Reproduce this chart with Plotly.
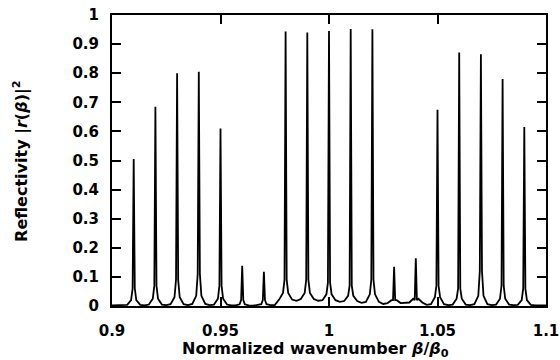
import plotly.graph_objects as go

# Resonance peaks of the reflectivity spectrum
peak_pos = [0.91, 0.92, 0.93, 0.94, 0.95, 0.96, 0.97, 0.98, 0.99, 1.00,
            1.01, 1.02, 1.03, 1.04, 1.05, 1.06, 1.07, 1.08, 1.09]
peak_top = [0.505, 0.685, 0.80, 0.805, 0.61, 0.138, 0.118, 0.943, 0.94, 0.945,
            0.952, 0.951, 0.135, 0.164, 0.674, 0.871, 0.865, 0.78, 0.615]
# height where the spike widens into its dark flare
peak_flare = [0.06, 0.07, 0.09, 0.11, 0.07, 0.02, 0.02, 0.09, 0.09, 0.08,
              0.07, 0.09, 0.02, 0.02, 0.07, 0.06, 0.12, 0.07, 0.06]
# height of the skirt close to each peak
peak_skirt = [0.02, 0.025, 0.03, 0.035, 0.025, 0.006, 0.006, 0.045, 0.045, 0.04,
              0.035, 0.04, 0.02, 0.025, 0.03, 0.025, 0.035, 0.025, 0.02]
# height of the skirt base further out from each peak
peak_base = [0.004, 0.005, 0.006, 0.007, 0.005, 0.002, 0.003, 0.022, 0.024, 0.02,
             0.017, 0.014, 0.01, 0.012, 0.006, 0.005, 0.006, 0.005, 0.004]
# valley levels: at 0.9, between each pair of peaks, and at 1.1
valley_x = [0.900, 0.915, 0.925, 0.935, 0.945, 0.955, 0.965, 0.975, 0.985, 0.995,
            1.005, 1.015, 1.025, 1.035, 1.045, 1.055, 1.065, 1.075, 1.085, 1.095, 1.100]
valley_y = [0.002, 0.002, 0.003, 0.003, 0.003, 0.002, 0.001, 0.003, 0.018, 0.018,
            0.014, 0.011, 0.007, 0.01, 0.004, 0.003, 0.003, 0.003, 0.003, 0.002, 0.002]

x_tickvals = [0.9, 0.95, 1.0, 1.05, 1.1]
x_ticktext = ["0.9", "0.95", "1", "1.05", "1.1"]
y_tickvals = [0, 0.1, 0.2, 0.3, 0.4, 0.5, 0.6, 0.7, 0.8, 0.9, 1.0]
y_ticktext = ["0", "0.1", "0.2", "0.3", "0.4", "0.5", "0.6", "0.7", "0.8", "0.9", "1"]

# Offsets (in wavenumber units) at which the read heights apply around each peak
FLARE_OFF = 0.0005
SKIRT_OFF = 0.0012
BASE_OFF = 0.003

xs, ys = [], []
for i, p in enumerate(peak_pos):
    xs.append(valley_x[i])
    ys.append(valley_y[i])
    xs += [p - BASE_OFF, p - SKIRT_OFF, p - FLARE_OFF, p,
           p + FLARE_OFF, p + SKIRT_OFF, p + BASE_OFF]
    ys += [peak_base[i], peak_skirt[i], peak_flare[i], peak_top[i],
           peak_flare[i], peak_skirt[i], peak_base[i]]
xs += [valley_x[len(peak_pos)], valley_x[-1]]
ys += [valley_y[len(peak_pos)], valley_y[-1]]

fig = go.Figure()
fig.add_trace(go.Scatter(x=xs, y=ys, mode="lines",
                         line=dict(color="black", width=1.8),
                         hoverinfo="skip", showlegend=False))

tick_font = dict(family="DejaVu Sans", size=15, color="black", weight="bold")
title_font = dict(family="DejaVu Sans", size=16, color="black", weight="bold")
axis_common = dict(showline=True, linecolor="black", linewidth=2, mirror="ticks",
                   ticks="inside", ticklen=9, tickwidth=1.5, tickcolor="black",
                   showgrid=False, zeroline=False, tickfont=tick_font,
                   automargin=False)

fig.update_layout(
    width=560, height=360,
    margin=dict(l=112, r=14, t=15, b=54, autoexpand=False),
    paper_bgcolor="white", plot_bgcolor="white",
    xaxis=dict(range=[0.9, 1.1], tickvals=x_tickvals, ticktext=x_ticktext,
               ticklabelstandoff=10, ticklabeloverflow="allow", **axis_common),
    yaxis=dict(range=[0, 1], tickvals=y_tickvals, ticktext=y_ticktext,
               ticklabelstandoff=8, **axis_common),
    annotations=[
        dict(text="Normalized wavenumber <i>β</i>/<i>β</i><sub>0</sub>",
             xref="paper", yref="paper", x=0.47, y=-0.149, xanchor="center", yanchor="middle",
             showarrow=False, font=title_font),
        dict(text="Reflectivity |<i>r</i>(<i>β</i>)|<sup>2</sup>",
             xref="paper", yref="paper", x=-0.211, y=0.5, xanchor="center", yanchor="middle",
             textangle=-90, showarrow=False, font=title_font),
    ],
)

fig.write_html("out.html")
